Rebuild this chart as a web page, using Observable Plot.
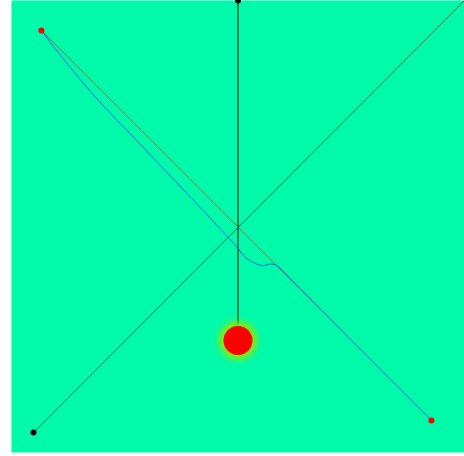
<!DOCTYPE html>
<html>
<head>
<meta charset="utf-8">
<script src="https://cdn.jsdelivr.net/npm/d3@7"></script>
<script src="https://cdn.jsdelivr.net/npm/@observablehq/plot@0.6"></script>
<style>
  html, body { margin: 0; padding: 0; background: #fff; }
  svg { display: block; }
</style>
</head>
<body>
<div id="chart"></div>
<script>
// Coordinates in a normalized frame: x and y from -1 to 1
const pivot = [{x: 0, y: 1}];
const bob = [{x: 0, y: -0.504}];
const rod = [{x: 0, y: 1}, {x: 0, y: -0.504}];
const diagonal = [{x: -0.903, y: -0.912}, {x: 1.0, y: 1.0}];
const diagonalStart = [{x: -0.903, y: -0.912}];
const redLine = [{x: -0.868, y: 0.867}, {x: 0.854, y: -0.858}];
const blueX = [-0.868, -0.766, -0.616, -0.448, -0.280, -0.113, -0.011, 0.033, 0.068, 0.108, 0.143, 0.170, 0.25, 0.5, 0.854];
const blueY = [0.867, 0.735, 0.558, 0.381, 0.204, 0.027, -0.084, -0.137, -0.159, -0.173, -0.166, -0.173, -0.251, -0.503, -0.858];
const blueLine = blueX.map((x, i) => ({x, y: blueY[i]}));

const chart = Plot.plot({
  width: 464,
  height: 456,
  marginLeft: 11,
  marginRight: 0,
  marginTop: 0,
  marginBottom: 4,
  x: {domain: [-1, 1], axis: null},
  y: {domain: [-1, 1], axis: null},
  marks: [
    Plot.frame({fill: "rgb(0,250,170)", stroke: "none"}),
    Plot.line(diagonal, {x: "x", y: "y", stroke: "#000", strokeOpacity: 0.6, strokeWidth: 0.9, clip: true}),
    Plot.line(redLine, {x: "x", y: "y", stroke: "#b0502a", strokeOpacity: 0.85, strokeWidth: 1}),
    Plot.line(blueLine, {x: "x", y: "y", stroke: "#0040ff", strokeOpacity: 0.8, strokeWidth: 1, curve: "catmull-rom"}),
    Plot.line(rod, {x: "x", y: "y", stroke: "#1a3a2a", strokeOpacity: 0.75, strokeWidth: 1.6}),
    Plot.dot(bob, {x: "x", y: "y", r: 19, fill: "#90e800", stroke: "none", imageFilter: "blur(3px)"}),
    Plot.dot(bob, {x: "x", y: "y", r: 14.5, fill: "#ff0000", stroke: "none"}),
    Plot.dot(pivot, {x: "x", y: "y", r: 3, fill: "#000", stroke: "none"}),
    Plot.dot(diagonalStart, {x: "x", y: "y", r: 3, fill: "#000", stroke: "none"}),
    Plot.dot(redLine, {x: "x", y: "y", r: 3, fill: "#ff0000", stroke: "none"})
  ]
});
document.getElementById("chart").appendChild(chart);
</script>
</body>
</html>
